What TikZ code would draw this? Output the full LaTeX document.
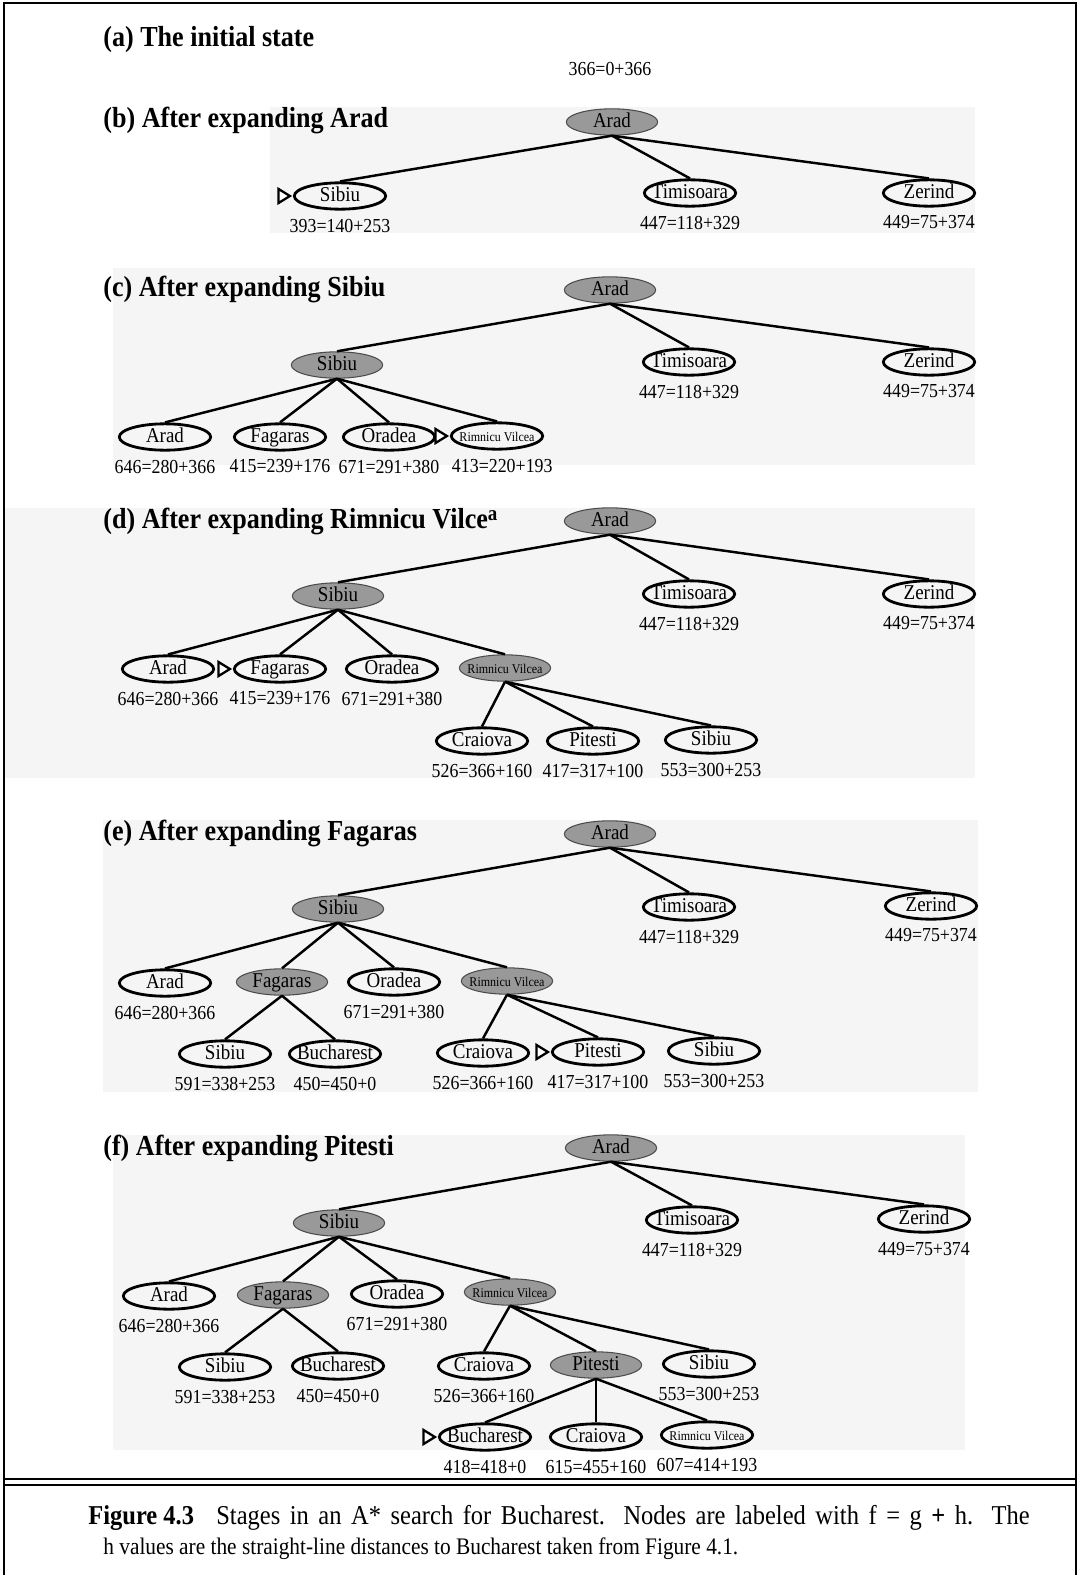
\documentclass[tikz,border=0pt]{standalone}
\usepackage{fontspec}
\setmainfont[FakeStretch=0.9]{Liberation Serif}
\usetikzlibrary{positioning, shapes.geometric}

\newcommand{\town}[1]{\makebox[0pt]{#1}}
\newcommand{\rv}{{\fontsize{7.6}{8}\selectfont Rimnicu Vilcea}}

\begin{document}
\begin{tikzpicture}[x=0.02cm, y=-0.02cm,
  open/.style={ellipse, draw, line width=1.6pt, minimum width=52pt, minimum height=15pt,
    inner sep=0pt, text height=1.3ex, text depth=0pt, font=\fontsize{12}{13}\selectfont},
  shut/.style={open, draw=black!70, line width=0.6pt, fill=black!40},
  fval/.style={font=\fontsize{11.3}{12}\selectfont, inner sep=0pt},
  every label/.style={fval},
  label distance=4.5pt,
  stage/.style={anchor=west, inner sep=0pt, font=\fontsize{16.5}{18}\selectfont\bfseries},
  branch/.style={line width=1.4pt},
  nextmark/.style={isosceles triangle, isosceles triangle stretches, draw, line width=1.3pt,
    fill=white, inner sep=0pt, minimum width=8pt, minimum height=6.5pt},
  scan/.style={fill=black!4, draw=none}]

\useasboundingbox (0,0) rectangle (1080,1575);

% scanned backgrounds
\fill[scan] (270,107) rectangle (975,233);
\fill[scan] (113,268) rectangle (975,465);
\fill[scan] (5,508) rectangle (975,778);
\fill[scan] (103,820) rectangle (978,1092);
\fill[scan] (113,1135) rectangle (965,1450);

% frame
\draw[line width=0.9pt] (4,1575) -- (4,3) -- (1076,3) -- (1076,1575);
\draw[line width=1pt] (4,1479) -- (1076,1479);
\draw[line width=1pt] (4,1485) -- (1076,1485);

% (a)
\path (103,40) node[stage] (ta) {(a) The initial state}
      (610,69) node[fval] (a0) {366=0+366};

% (b)
\path (103,120) node[stage] (tb) {(b) After expanding Arad}
      (612,122) node[shut] (b0) {\town{Arad}}
      (340,196) node[open, label={below:393=140+253}] (b1) {\town{Sibiu}}
      (690,193) node[open, label={below:447=118+329}] (b2) {\town{Timisoara}}
      (929,193) node[open, label={below:449=75+374}] (b3) {\town{Zerind}};
\node[nextmark, left=0pt of b1] (bm) {};
\draw[branch] (b0.south) -- (b1.north);
\draw[branch] (b0.south) -- (b2.north);
\draw[branch] (b0.south) -- (b3.north);

% (c)
\path (103,289) node[stage] (tc) {(c) After expanding Sibiu}
      (610,290) node[shut] (c0) {\town{Arad}}
      (337,365) node[shut] (c1) {\town{Sibiu}}
      (689,362) node[open, label={below:447=118+329}] (c2) {\town{Timisoara}}
      (929,362) node[open, label={below:449=75+374}] (c3) {\town{Zerind}}
      (165,437) node[open, label={below:646=280+366}] (c4) {\town{Arad}}
      (280,437) node[open, label={below:415=239+176}] (c5) {\town{Fagaras}}
      (389,437) node[open, label={below:671=291+380}] (c6) {\town{Oradea}}
      (497,436) node[open, label={[xshift=3pt]below:413=220+193}] (c7) {\town{\rv}};
\node[nextmark, left=0pt of c7] (cm) {};
\draw[branch] (c0.south) -- (c1.north);
\draw[branch] (c0.south) -- (c2.north);
\draw[branch] (c0.south) -- (c3.north);
\draw[branch] (c1.south) -- (c4.north);
\draw[branch] (c1.south) -- (c5.north);
\draw[branch] (c1.south) -- (c6.north);
\draw[branch] (c1.south) -- (c7.north);

% (d)
\path (103,521) node[stage] (td) {(d) After expanding Rimnicu Vilce\raisebox{4pt}{\fontsize{12}{12}\selectfont a}}
      (610,521) node[shut] (d0) {\town{Arad}}
      (338,596) node[shut] (d1) {\town{Sibiu}}
      (689,594) node[open, label={below:447=118+329}] (d2) {\town{Timisoara}}
      (929,594) node[open, label={below:449=75+374}] (d3) {\town{Zerind}}
      (168,669) node[open, label={below:646=280+366}] (d4) {\town{Arad}}
      (280,669) node[open, label={below:415=239+176}] (d5) {\town{Fagaras}}
      (392,669) node[open, label={below:671=291+380}] (d6) {\town{Oradea}}
      (505,668) node[shut] (d7) {\town{\rv}}
      (482,741) node[open, label={below:526=366+160}] (d8) {\town{Craiova}}
      (593,741) node[open, label={below:417=317+100}] (d9) {\town{Pitesti}}
      (711,740) node[open, label={below:553=300+253}] (d10) {\town{Sibiu}};
\node[nextmark, left=0pt of d5] (dm) {};
\draw[branch] (d0.south) -- (d1.north);
\draw[branch] (d0.south) -- (d2.north);
\draw[branch] (d0.south) -- (d3.north);
\draw[branch] (d1.south) -- (d4.north);
\draw[branch] (d1.south) -- (d5.north);
\draw[branch] (d1.south) -- (d6.north);
\draw[branch] (d1.south) -- (d7.north);
\draw[branch] (d7.south) -- (d8.north);
\draw[branch] (d7.south) -- (d9.north);
\draw[branch] (d7.south) -- (d10.north);

% (e)
\path (103,833) node[stage] (te) {(e) After expanding Fagaras}
      (610,834) node[shut] (e0) {\town{Arad}}
      (338,909) node[shut] (e1) {\town{Sibiu}}
      (689,907) node[open, label={below:447=118+329}] (e2) {\town{Timisoara}}
      (931,906) node[open, label={below:449=75+374}] (e3) {\town{Zerind}}
      (165,983) node[open, label={below:646=280+366}] (e4) {\town{Arad}}
      (282,982) node[shut] (e5) {\town{Fagaras}}
      (394,982) node[open, label={below:671=291+380}] (e6) {\town{Oradea}}
      (507,981) node[shut] (e7) {\town{\rv}}
      (225,1054) node[open, label={below:591=338+253}] (e8) {\town{Sibiu}}
      (335,1054) node[open, label={below:450=450+0}] (e9) {\town{Bucharest}}
      (483,1053) node[open, label={below:526=366+160}] (e10) {\town{Craiova}}
      (598,1052) node[open, label={below:417=317+100}] (e11) {\town{Pitesti}}
      (714,1051) node[open, label={below:553=300+253}] (e12) {\town{Sibiu}};
\node[nextmark, left=0pt of e11] (em) {};
\draw[branch] (e0.south) -- (e1.north);
\draw[branch] (e0.south) -- (e2.north);
\draw[branch] (e0.south) -- (e3.north);
\draw[branch] (e1.south) -- (e4.north);
\draw[branch] (e1.south) -- (e5.north);
\draw[branch] (e1.south) -- (e6.north);
\draw[branch] (e1.south) -- (e7.north);
\draw[branch] (e5.south) -- (e8.north);
\draw[branch] (e5.south) -- (e9.north);
\draw[branch] (e7.south) -- (e10.north);
\draw[branch] (e7.south) -- (e11.north);
\draw[branch] (e7.south) -- (e12.north);

% (f)
\path (103,1148) node[stage] (tf) {(f) After expanding Pitesti}
      (611,1148) node[shut] (f0) {\town{Arad}}
      (339,1223) node[shut] (f1) {\town{Sibiu}}
      (692,1220) node[open, label={below:447=118+329}] (f2) {\town{Timisoara}}
      (924,1219) node[open, label={below:449=75+374}] (f3) {\town{Zerind}}
      (169,1296) node[open, label={below:646=280+366}] (f4) {\town{Arad}}
      (283,1295) node[shut] (f5) {\town{Fagaras}}
      (397,1294) node[open, label={below:671=291+380}] (f6) {\town{Oradea}}
      (510,1292) node[shut] (f7) {\town{\rv}}
      (225,1367) node[open, label={below:591=338+253}] (f8) {\town{Sibiu}}
      (338,1366) node[open, label={below:450=450+0}] (f9) {\town{Bucharest}}
      (484,1366) node[open, label={below:526=366+160}] (f10) {\town{Craiova}}
      (596,1365) node[shut] (f11) {\town{Pitesti}}
      (709,1364) node[open, label={below:553=300+253}] (f12) {\town{Sibiu}}
      (485,1437) node[open, label={below:418=418+0}] (f13) {\town{Bucharest}}
      (596,1437) node[open, label={below:615=455+160}] (f14) {\town{Craiova}}
      (707,1435) node[open, label={below:607=414+193}] (f15) {\town{\rv}};
\node[nextmark, left=0pt of f13] (fm) {};
\draw[branch] (f0.south) -- (f1.north);
\draw[branch] (f0.south) -- (f2.north);
\draw[branch] (f0.south) -- (f3.north);
\draw[branch] (f1.south) -- (f4.north);
\draw[branch] (f1.south) -- (f5.north);
\draw[branch] (f1.south) -- (f6.north);
\draw[branch] (f1.south) -- (f7.north);
\draw[branch] (f5.south) -- (f8.north);
\draw[branch] (f5.south) -- (f9.north);
\draw[branch] (f7.south) -- (f10.north);
\draw[branch] (f7.south) -- (f11.north);
\draw[branch] (f7.south) -- (f12.north);
\draw[branch] (f11.south) -- (f13.north);
\draw[branch] (f11.south) -- (f14.north);
\draw[branch] (f11.south) -- (f15.north);

% caption
\path (88,1518) node[anchor=west, inner sep=0pt, font=\fontsize{15.5}{16}\selectfont\bfseries] (fig) {Figure 4.3}
      (216,1518) node[anchor=west, inner sep=0pt, font=\fontsize{15.5}{16}\selectfont] (cap1)
        {\makebox[463pt][s]{Stages in an A* search for Bucharest. Nodes are labeled with f = g \textbf{+} h. The}}
      (103,1549) node[anchor=west, inner sep=0pt, font=\fontsize{13.5}{16}\selectfont] (cap2)
        {h values are the straight-line distances to Bucharest taken from Figure 4.1.};
\end{tikzpicture}
\end{document}
